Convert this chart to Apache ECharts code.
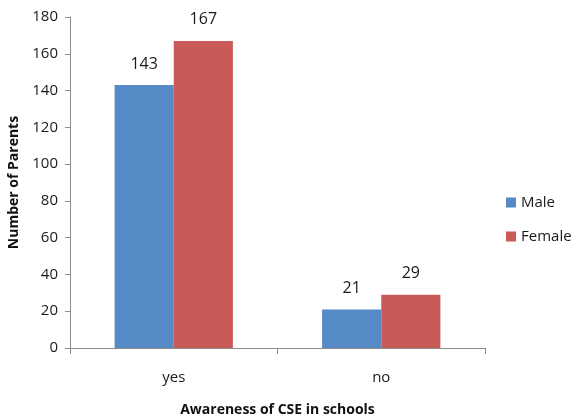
<!DOCTYPE html>
<html>
<head>
<meta charset="utf-8">
<script src="https://cdn.jsdelivr.net/npm/echarts@6/dist/echarts.min.js"></script>
<style>
  html, body { margin: 0; padding: 0; background: #fff; }
  #chart { width: 573px; height: 417px; }
</style>
</head>
<body>
<div id="chart"></div>
<script>
// 数据
var categories = ['yes', 'no'];
var maleData = [143, 21];
var femaleData = [167, 29];
var yTicks = [0, 180, 20]; // min, max, interval

(function () {
  var myChart = echarts.init(document.getElementById('chart'))
  var font = '"Open Sans", "Liberation Sans", sans-serif'
  var axisGrey = '#8c8c8c'
  option = {
    animation: false,
    color: ['#558ac6', '#c95a58'],
    textStyle: { fontFamily: font },
    legend: {
      orient: 'vertical',
      left: 501,
      top: 190,
      itemWidth: 10,
      itemHeight: 10,
      itemGap: 19,
      icon: 'rect',
      data: ['Male', 'Female'],
      textStyle: { color: '#1a1a1a', fontSize: 15, fontFamily: font }
    },
    grid: {
      left: 70,
      right: 88,
      top: 17,
      bottom: 69,
      outerBoundsMode: 'none'
    },
    xAxis: {
      type: 'category',
      data: categories,
      name: 'Awareness of CSE in schools',
      nameLocation: 'middle',
      nameGap: 55,
      nameTextStyle: { fontWeight: 'bold', fontSize: 14, color: '#111', fontFamily: font },
      axisLine: { lineStyle: { color: axisGrey } },
      axisTick: { show: true, length: 6, lineStyle: { color: axisGrey } },
      axisLabel: { color: '#1a1a1a', fontSize: 15, margin: 22 }
    },
    yAxis: {
      type: 'value',
      min: yTicks[0],
      max: yTicks[1],
      interval: yTicks[2],
      name: 'Number of Parents',
      nameLocation: 'middle',
      nameGap: 47,
      nameTextStyle: { fontWeight: 'bold', fontSize: 14, color: '#111', fontFamily: font },
      axisLine: { show: true, lineStyle: { color: axisGrey } },
      axisTick: { show: true, length: 5, lineStyle: { color: axisGrey } },
      splitLine: { show: false },
      axisLabel: { color: '#1a1a1a', fontSize: 15, margin: 12 }
    },
    series: [{
      name: 'Male',
      type: 'bar',
      data: maleData,
      barGap: '0%',
      barCategoryGap: '43%',
      label: { show: true, position: 'top', distance: 13, color: '#1a1a1a', fontSize: 16 }
    }, {
      name: 'Female',
      type: 'bar',
      data: femaleData,
      label: { show: true, position: 'top', distance: 13, color: '#1a1a1a', fontSize: 16 }
    }]
  };
  myChart.setOption(option)
})();
</script>
</body>
</html>
